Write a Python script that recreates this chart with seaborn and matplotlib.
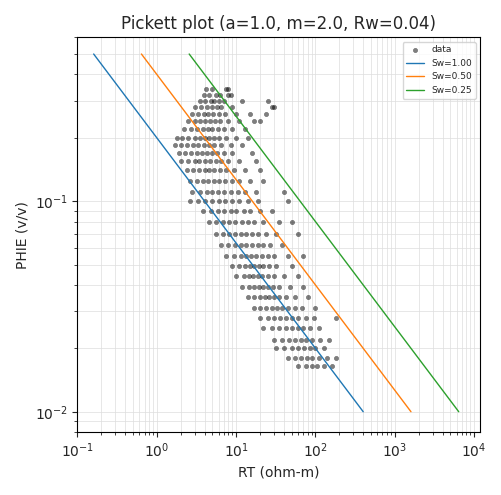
import numpy as np
import matplotlib
matplotlib.use("Agg")
import matplotlib.pyplot as plt
import seaborn as sns

# Data points: (PHIE level, list of RT values)
rows = {
    0.34: [4.2, 5.0, 7.5, 8.0],
    0.32: [3.9, 4.5, 5.5, 6.2, 7.8, 8.5],
    0.30: [3.5, 4.0, 4.8, 5.2, 6.0, 7.0, 12, 25],
    0.28: [3.0, 3.6, 4.3, 5.0, 5.8, 6.5, 9, 28, 30],
    0.26: [2.8, 3.3, 3.9, 4.4, 5.1, 6.0, 7.2, 10, 15, 24],
    0.24: [2.5, 3.0, 3.5, 4.1, 4.7, 5.4, 6.3, 8, 11, 17, 20],
    0.22: [2.2, 2.7, 3.2, 3.8, 4.4, 5.0, 5.9, 7, 9, 13],
    0.20: [1.8, 2.1, 2.5, 3.0, 3.5, 4.0, 4.6, 5.3, 6.1, 7.5, 10, 14],
    0.185: [1.7, 2.0, 2.4, 2.9, 3.3, 3.9, 4.5, 5.2, 6.5, 8.5, 12],
    0.17: [1.9, 2.3, 2.7, 3.2, 3.7, 4.3, 5.0, 5.8, 7.0, 9, 16],
    0.155: [2.0, 2.5, 3.0, 3.4, 4.0, 4.7, 5.5, 6.4, 8, 11, 18],
    0.14: [2.4, 2.9, 3.4, 4.0, 4.6, 5.3, 6.2, 7.5, 9.5, 13, 20],
    0.125: [2.6, 3.2, 3.8, 4.4, 5.2, 6.0, 7.2, 8.8, 11, 15, 22],
    0.11: [2.8, 3.5, 4.3, 5.0, 5.9, 7.0, 8.5, 10.5, 13, 18, 40],
    0.10: [2.6, 3.3, 4.1, 5.0, 6.0, 7.2, 8.8, 10.8, 14, 19, 45],
    0.09: [3.8, 4.8, 5.9, 7.0, 8.5, 10, 12.5, 15, 20, 28],
    0.08: [4.5, 5.6, 6.8, 8.2, 9.8, 11.8, 14, 17, 22, 35, 50],
    0.07: [5.5, 6.8, 8.2, 9.8, 11.5, 13.5, 16, 19, 24, 32, 60],
    0.062: [6.5, 8.0, 9.7, 11.5, 13.5, 16, 19, 22, 27, 38],
    0.055: [7.5, 9.5, 11.5, 13.5, 15.5, 18, 21, 25, 30, 45, 70],
    0.049: [9, 11, 13, 15, 17, 19.5, 22, 26, 32, 50],
    0.044: [10, 12.5, 14.5, 16.5, 19, 21.5, 25, 30, 40, 60],
    0.039: [12, 14.5, 17, 19.5, 22, 25, 29, 35, 48, 70],
    0.035: [14, 17, 20, 23, 26, 30, 35, 42, 55, 80],
    0.031: [17, 20, 24, 28, 33, 38, 45, 55, 68, 100],
    0.028: [20, 25, 30, 36, 42, 50, 60, 75, 95, 180],
    0.025: [22, 28, 35, 42, 50, 60, 70, 85, 110],
    0.022: [30, 38, 46, 55, 65, 75, 90, 115, 150],
    0.020: [32, 40, 50, 60, 72, 85, 100, 130],
    0.018: [45, 55, 65, 78, 90, 110, 140, 180],
    0.0165: [60, 75, 90, 105, 130, 160],
}
phie = [p for p, rts in rows.items() for _ in rts]
rt = [r for rts in rows.values() for r in rts]

# Sw line endpoints (RT at PHIE 0.5 and 0.01)
line_phie = [0.5, 0.01]
sw_labels = ["Sw=1.00", "Sw=0.50", "Sw=0.25"]
sw_rt = [[0.16, 400], [0.64, 1600], [2.56, 6400]]

sns.set_style("white")
fig, ax = plt.subplots(figsize=(5.02, 4.95), dpi=100)
sns.scatterplot(x=rt, y=phie, s=10, color="black", alpha=0.5, edgecolor="black", linewidth=0.3, ax=ax, label="data")
for lab, r, c in zip(sw_labels, sw_rt, ["#1f77b4", "#ff7f0e", "#2ca02c"]):
    sns.lineplot(x=r, y=line_phie, ax=ax, color=c, lw=1, label=lab)
ax.set_xscale("log"); ax.set_yscale("log")
ax.set_xlim(0.1, 1.2e4); ax.set_ylim(0.008, 0.6)
ax.grid(True, which="both", color="#dddddd", lw=0.5)
for s in ax.spines.values():
    s.set_color("black")
ax.tick_params(which="both", direction="out", bottom=True, left=True)
ax.set_xlabel("RT (ohm-m)"); ax.set_ylabel("PHIE (v/v)")
ax.set_title("Pickett plot (a=1.0, m=2.0, Rw=0.04)")
ax.legend(loc="upper right", fontsize=6.5)
fig.tight_layout()
fig.savefig("out.png")
